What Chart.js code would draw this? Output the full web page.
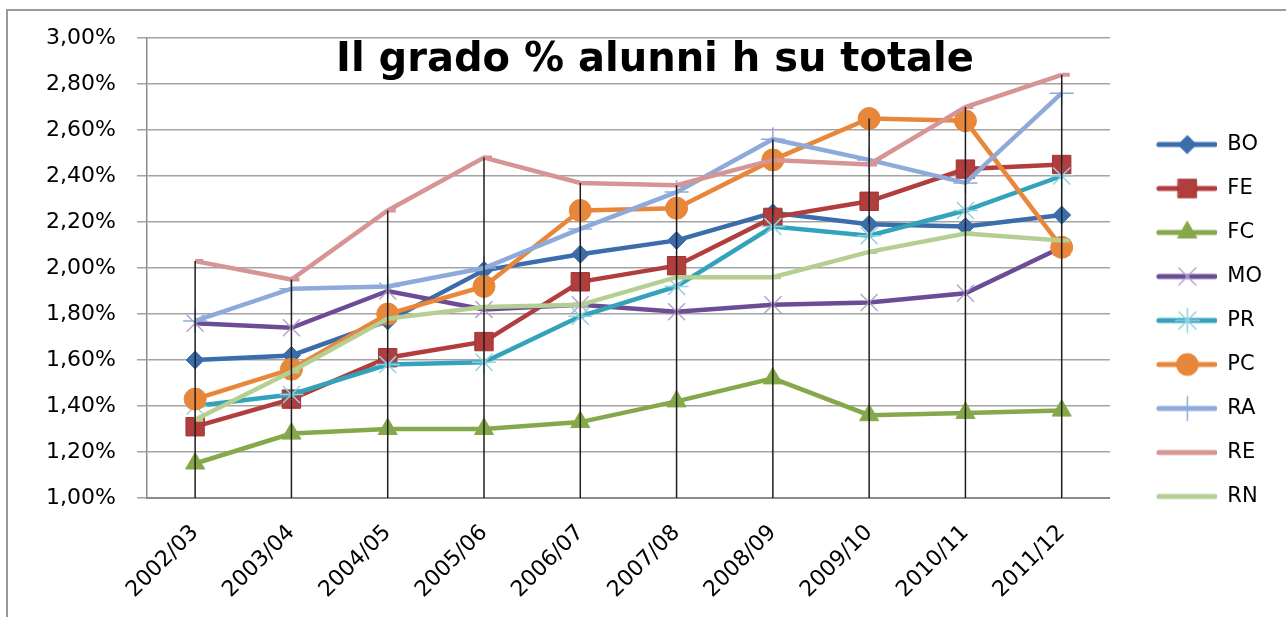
<!DOCTYPE html>
<html>
<head>
<meta charset="utf-8">
<script src="https://cdn.jsdelivr.net/npm/chart.js@4"></script>
<style>
  html, body { margin: 0; padding: 0; background: #fff; }
  #wrap { position: relative; width: 1286px; height: 617px; overflow: hidden; }
  #frame { position: absolute; left: 6px; top: 9px; width: 1300px; height: 640px; border-left: 2px solid #9a9a9a; border-top: 2px solid #9a9a9a; pointer-events: none; }
  #title { position: absolute; top: 37px; left: 655px; transform: translateX(-50%); font-family: "DejaVu Sans"; font-weight: bold; font-size: 40px; line-height: 40px; white-space: nowrap; color: #000; }
  canvas { position: absolute; left: 0; top: 0; }
</style>
</head>
<body>
<div id="wrap">
  <canvas id="chart" width="1286" height="617"></canvas>
  <div id="frame"></div>
  <div id="title">Il grado % alunni h su totale</div>
</div>
<script>
// anni scolastici
const labels = ["2002/03", "2003/04", "2004/05", "2005/06", "2006/07", "2007/08", "2008/09", "2009/10", "2010/11", "2011/12"];

// % alunni h su totale, per provincia
const BO = [1.60, 1.62, 1.77, 1.99, 2.06, 2.12, 2.24, 2.19, 2.18, 2.23];
const FE = [1.31, 1.43, 1.61, 1.68, 1.94, 2.01, 2.22, 2.29, 2.43, 2.45];
const FC = [1.15, 1.28, 1.30, 1.30, 1.33, 1.42, 1.52, 1.36, 1.37, 1.38];
const MO = [1.76, 1.74, 1.90, 1.82, 1.84, 1.81, 1.84, 1.85, 1.89, 2.09];
const PR = [1.40, 1.45, 1.58, 1.59, 1.79, 1.92, 2.18, 2.14, 2.25, 2.40];
const PC = [1.43, 1.56, 1.80, 1.92, 2.25, 2.26, 2.47, 2.65, 2.64, 2.09];
const RA = [1.77, 1.91, 1.92, 2.00, 2.17, 2.33, 2.56, 2.47, 2.37, 2.76];
const RE = [2.03, 1.95, 2.25, 2.48, 2.37, 2.36, 2.47, 2.45, 2.70, 2.84];
const RN = [1.34, 1.55, 1.78, 1.83, 1.84, 1.96, 1.96, 2.07, 2.15, 2.12];

const yMin = 1.0;
const yMax = 3.0;
const yStep = 0.2;

const series = [
  { label: "BO", data: BO, color: "#3b6dab", fill: "#3b6dab", stroke: "#3b6dab", marker: "rectRot", radius: 9, mw: 1 },
  { label: "FE", data: FE, color: "#b13d3d", fill: "#b13d3d", stroke: "#a03535", marker: "rect", radius: 13, mw: 1 },
  { label: "FC", data: FC, color: "#85a84a", fill: "#85a84a", stroke: "#85a84a", marker: "triangle", radius: 11, mw: 1 },
  { label: "MO", data: MO, color: "#6b4c95", fill: "#b3a2d2", stroke: "#b3a2d2", marker: "crossRot", radius: 12, mw: 1.5 },
  { label: "PR", data: PR, color: "#33a2bb", fill: "#8fd2e2", stroke: "#8fd2e2", marker: "star", radius: 12, mw: 1.5 },
  { label: "PC", data: PC, color: "#e8873a", fill: "#e8873a", stroke: "#e8873a", marker: "circle", radius: 11, mw: 1 },
  { label: "RA", data: RA, color: "#8eaadb", fill: "#8eaadb", stroke: "#8eaadb", marker: "cross", radius: 12, mw: 1.5 },
  { label: "RE", data: RE, color: "#d69494", fill: "#d69494", stroke: "#d69494", marker: "dash", radius: 8, mw: 4 },
  { label: "RN", data: RN, color: "#b5cf93", fill: "#b5cf93", stroke: "#b5cf93", marker: "dash", radius: 8, mw: 4 }
];

// line + marker sample for the legend, like the spreadsheet legend
function legendImage(s) {
  const c = document.createElement("canvas");
  c.width = 84;
  c.height = 30;
  const g = c.getContext("2d");
  g.strokeStyle = s.color;
  g.lineWidth = 5;
  g.lineCap = "round";
  g.beginPath();
  g.moveTo(26, 15);
  g.lineTo(82, 15);
  g.stroke();
  if (s.marker !== "dash") {
    g.fillStyle = s.fill;
    g.strokeStyle = s.stroke;
    g.lineWidth = s.mw;
    Chart.helpers.drawPoint(g, { pointStyle: s.marker, radius: s.radius, rotation: 0, borderWidth: s.mw }, 54.5, 15);
  }
  return c;
}
const legendImgs = series.map(legendImage);

const datasets = series.map((s, i) => ({
  label: s.label,
  data: s.data,
  borderColor: s.color,
  backgroundColor: s.color,
  borderWidth: 4.5,
  pointStyle: s.marker,
  pointRadius: s.radius,
  pointBackgroundColor: s.fill,
  pointBorderColor: s.stroke,
  pointBorderWidth: s.mw,
  tension: 0,
  order: series.length - 1 - i
}));

// vertical drop lines from the highest value down to the axis
const dropLines = {
  id: "dropLines",
  afterDatasetsDraw(chart) {
    const { ctx, chartArea, scales } = chart;
    ctx.save();
    ctx.strokeStyle = "#1e1e1e";
    ctx.lineWidth = 1.5;
    labels.forEach((l, i) => {
      const top = Math.max(...chart.data.datasets.map((d) => d.data[i]));
      const px = scales.x.getPixelForValue(i);
      ctx.beginPath();
      ctx.moveTo(px, scales.y.getPixelForValue(top));
      ctx.lineTo(px, chartArea.bottom);
      ctx.stroke();
    });
    ctx.restore();
  }
};

const tickFont = { family: "DejaVu Sans", size: 22 };
const legendFont = { family: "DejaVu Sans", size: 21 };

new Chart(document.getElementById("chart").getContext("2d"), {
  type: "line",
  data: { labels: labels, datasets: datasets },
  options: {
    responsive: false,
    animation: false,
    layout: { padding: { top: 38, bottom: 14, left: 0, right: 14 } },
    plugins: {
      tooltip: { enabled: false },
      legend: {
        position: "right",
        align: "center",
        labels: {
          usePointStyle: true,
          pointStyleWidth: 84,
          padding: 23,
          color: "#000",
          font: legendFont,
          sort: (a, b) => a.datasetIndex - b.datasetIndex,
          generateLabels: (chart) =>
            Chart.defaults.plugins.legend.labels.generateLabels(chart).map((item) => {
              item.pointStyle = legendImgs[item.datasetIndex];
              return item;
            })
        }
      }
    },
    scales: {
      x: {
        offset: true,
        grid: { display: false, offset: true },
        border: { display: true, color: "#8c8c8c", width: 2 },
        ticks: { color: "#000", font: tickFont, maxRotation: 45, minRotation: 45, autoSkip: false, padding: 14 },
        afterFit: (s) => { s.height = 105; }
      },
      y: {
        min: yMin,
        max: yMax,
        grid: { color: "#a3a3a3", lineWidth: 1.5, tickLength: 10 },
        border: { color: "#8c8c8c", width: 1.5 },
        ticks: {
          stepSize: yStep,
          padding: 21,
          color: "#000",
          font: tickFont,
          callback: (v) => v.toFixed(2).replace(".", ",") + "%"
        },
        afterFit: (s) => { s.width = 147; }
      }
    }
  },
  plugins: [dropLines]
});
</script>
</body>
</html>
